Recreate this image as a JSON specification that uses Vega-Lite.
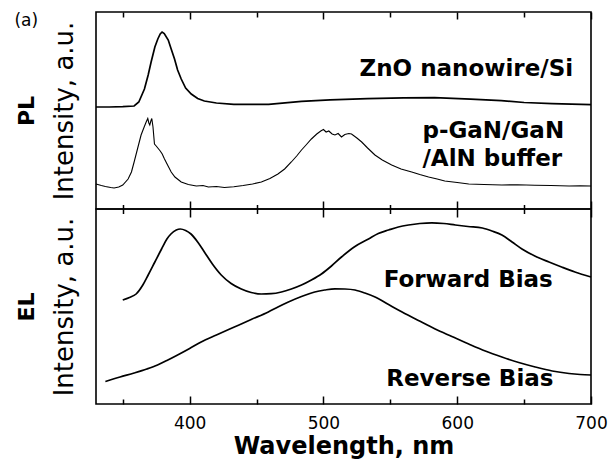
{
  "$schema": "https://vega.github.io/schema/vega-lite/v6.json",
  "padding": {"left": 13, "top": 10, "right": 14, "bottom": 0},
  "background": "white",
  "spacing": 0,
  "bounds": "flush",
  "config": {
    "view": {"stroke": "black", "strokeWidth": 1.6},
    "font": "DejaVu Sans",
    "axis": {"grid": false, "domain": false, "tickColor": "black", "tickWidth": 1.5, "labelColor": "black", "titleColor": "black", "minExtent": 0, "labelFlush": false}
  },
  "datasets": {
    "pl": [
      {"s": "ZnO", "wl": 330, "v": 102}, {"s": "ZnO", "wl": 340, "v": 102}, {"s": "ZnO", "wl": 350, "v": 102.3},
      {"s": "ZnO", "wl": 358.5, "v": 103}, {"s": "ZnO", "wl": 362, "v": 107}, {"s": "ZnO", "wl": 366.2, "v": 120},
      {"s": "ZnO", "wl": 369, "v": 134}, {"s": "ZnO", "wl": 371.2, "v": 147}, {"s": "ZnO", "wl": 374, "v": 162},
      {"s": "ZnO", "wl": 376.2, "v": 170}, {"s": "ZnO", "wl": 378, "v": 175}, {"s": "ZnO", "wl": 379.4, "v": 177},
      {"s": "ZnO", "wl": 381, "v": 175.5}, {"s": "ZnO", "wl": 384, "v": 169}, {"s": "ZnO", "wl": 386.2, "v": 160},
      {"s": "ZnO", "wl": 388.7, "v": 150}, {"s": "ZnO", "wl": 391, "v": 139}, {"s": "ZnO", "wl": 393.7, "v": 130},
      {"s": "ZnO", "wl": 397, "v": 121}, {"s": "ZnO", "wl": 401.2, "v": 115}, {"s": "ZnO", "wl": 406, "v": 110.5},
      {"s": "ZnO", "wl": 411, "v": 108}, {"s": "ZnO", "wl": 420, "v": 106}, {"s": "ZnO", "wl": 433, "v": 104.7},
      {"s": "ZnO", "wl": 459, "v": 104.6}, {"s": "ZnO", "wl": 483.6, "v": 107.7}, {"s": "ZnO", "wl": 505, "v": 109.2},
      {"s": "ZnO", "wl": 533, "v": 110.3}, {"s": "ZnO", "wl": 560, "v": 111.2}, {"s": "ZnO", "wl": 583, "v": 111.3},
      {"s": "ZnO", "wl": 610, "v": 109.8}, {"s": "ZnO", "wl": 633, "v": 108.3}, {"s": "ZnO", "wl": 650, "v": 106.5},
      {"s": "ZnO", "wl": 671, "v": 105.3}, {"s": "ZnO", "wl": 700, "v": 104.3},
      {"s": "GaN", "wl": 330, "v": 25}, {"s": "GaN", "wl": 334, "v": 23.5}, {"s": "GaN", "wl": 337, "v": 22.5},
      {"s": "GaN", "wl": 341, "v": 21.5}, {"s": "GaN", "wl": 343.5, "v": 21}, {"s": "GaN", "wl": 347, "v": 22},
      {"s": "GaN", "wl": 350, "v": 24}, {"s": "GaN", "wl": 354, "v": 30}, {"s": "GaN", "wl": 356.5, "v": 37},
      {"s": "GaN", "wl": 358.5, "v": 47}, {"s": "GaN", "wl": 361, "v": 60}, {"s": "GaN", "wl": 363.7, "v": 74},
      {"s": "GaN", "wl": 366, "v": 82}, {"s": "GaN", "wl": 367.5, "v": 87}, {"s": "GaN", "wl": 368.7, "v": 90.5},
      {"s": "GaN", "wl": 369.5, "v": 86}, {"s": "GaN", "wl": 370.2, "v": 84}, {"s": "GaN", "wl": 371, "v": 88},
      {"s": "GaN", "wl": 371.7, "v": 90.5}, {"s": "GaN", "wl": 372.6, "v": 82}, {"s": "GaN", "wl": 373.7, "v": 65},
      {"s": "GaN", "wl": 375, "v": 63}, {"s": "GaN", "wl": 376.2, "v": 61}, {"s": "GaN", "wl": 378, "v": 58},
      {"s": "GaN", "wl": 379.5, "v": 55}, {"s": "GaN", "wl": 381.2, "v": 50}, {"s": "GaN", "wl": 383.5, "v": 44},
      {"s": "GaN", "wl": 386.2, "v": 37}, {"s": "GaN", "wl": 389, "v": 32}, {"s": "GaN", "wl": 393.7, "v": 27},
      {"s": "GaN", "wl": 399, "v": 24.5}, {"s": "GaN", "wl": 405, "v": 23}, {"s": "GaN", "wl": 410, "v": 23.5},
      {"s": "GaN", "wl": 414, "v": 22}, {"s": "GaN", "wl": 420, "v": 22.5}, {"s": "GaN", "wl": 426, "v": 21.5},
      {"s": "GaN", "wl": 433, "v": 22.3}, {"s": "GaN", "wl": 440, "v": 23.5}, {"s": "GaN", "wl": 447, "v": 25},
      {"s": "GaN", "wl": 453.6, "v": 27}, {"s": "GaN", "wl": 460, "v": 30.5}, {"s": "GaN", "wl": 466, "v": 35},
      {"s": "GaN", "wl": 471, "v": 40}, {"s": "GaN", "wl": 476, "v": 47}, {"s": "GaN", "wl": 480, "v": 53},
      {"s": "GaN", "wl": 483.6, "v": 59}, {"s": "GaN", "wl": 487, "v": 64}, {"s": "GaN", "wl": 491, "v": 70},
      {"s": "GaN", "wl": 495, "v": 75}, {"s": "GaN", "wl": 498, "v": 78}, {"s": "GaN", "wl": 500, "v": 79.5},
      {"s": "GaN", "wl": 502, "v": 77}, {"s": "GaN", "wl": 504, "v": 78}, {"s": "GaN", "wl": 506.5, "v": 75},
      {"s": "GaN", "wl": 508.6, "v": 74}, {"s": "GaN", "wl": 511, "v": 75.5}, {"s": "GaN", "wl": 513.5, "v": 72},
      {"s": "GaN", "wl": 516, "v": 74.5}, {"s": "GaN", "wl": 519, "v": 75.5}, {"s": "GaN", "wl": 521, "v": 75},
      {"s": "GaN", "wl": 525, "v": 71}, {"s": "GaN", "wl": 528.6, "v": 67}, {"s": "GaN", "wl": 533, "v": 61},
      {"s": "GaN", "wl": 538.5, "v": 54}, {"s": "GaN", "wl": 544, "v": 49}, {"s": "GaN", "wl": 551, "v": 44},
      {"s": "GaN", "wl": 558, "v": 40}, {"s": "GaN", "wl": 566, "v": 37}, {"s": "GaN", "wl": 572, "v": 34.5},
      {"s": "GaN", "wl": 578.6, "v": 32}, {"s": "GaN", "wl": 585, "v": 30}, {"s": "GaN", "wl": 590.7, "v": 28},
      {"s": "GaN", "wl": 600, "v": 26.5}, {"s": "GaN", "wl": 608.6, "v": 25}, {"s": "GaN", "wl": 620, "v": 24.5},
      {"s": "GaN", "wl": 633.4, "v": 24}, {"s": "GaN", "wl": 645, "v": 24.3}, {"s": "GaN", "wl": 658, "v": 23.7},
      {"s": "GaN", "wl": 670, "v": 23.5}, {"s": "GaN", "wl": 683.6, "v": 23}, {"s": "GaN", "wl": 692, "v": 23.3},
      {"s": "GaN", "wl": 700, "v": 23}
    ],
    "plLabels": [
      {"t": "ZnO nanowire/Si", "wl": 527, "v": 140},
      {"t": "p-GaN/GaN", "wl": 574, "v": 78},
      {"t": "/AlN buffer", "wl": 574, "v": 50}
    ],
    "panelTag": [
      {"t": "(a)", "wl": 269, "v": 188}
    ],
    "el": [
      {"s": "Forward", "wl": 350, "v": 104}, {"s": "Forward", "wl": 355, "v": 106.5}, {"s": "Forward", "wl": 360, "v": 110},
      {"s": "Forward", "wl": 365, "v": 119}, {"s": "Forward", "wl": 369, "v": 129}, {"s": "Forward", "wl": 374, "v": 142},
      {"s": "Forward", "wl": 379, "v": 155}, {"s": "Forward", "wl": 383, "v": 165}, {"s": "Forward", "wl": 386, "v": 170},
      {"s": "Forward", "wl": 390, "v": 174}, {"s": "Forward", "wl": 393, "v": 175}, {"s": "Forward", "wl": 397, "v": 173.5},
      {"s": "Forward", "wl": 401, "v": 170}, {"s": "Forward", "wl": 406, "v": 162}, {"s": "Forward", "wl": 411, "v": 152},
      {"s": "Forward", "wl": 417, "v": 140}, {"s": "Forward", "wl": 423.6, "v": 129}, {"s": "Forward", "wl": 431, "v": 120.5},
      {"s": "Forward", "wl": 438.6, "v": 115}, {"s": "Forward", "wl": 446, "v": 111.5}, {"s": "Forward", "wl": 453.6, "v": 110},
      {"s": "Forward", "wl": 461, "v": 110.3}, {"s": "Forward", "wl": 468.6, "v": 112}, {"s": "Forward", "wl": 476, "v": 115},
      {"s": "Forward", "wl": 483.6, "v": 119}, {"s": "Forward", "wl": 491, "v": 124}, {"s": "Forward", "wl": 498.5, "v": 130},
      {"s": "Forward", "wl": 506, "v": 138}, {"s": "Forward", "wl": 513.5, "v": 147}, {"s": "Forward", "wl": 523, "v": 157},
      {"s": "Forward", "wl": 533.7, "v": 165}, {"s": "Forward", "wl": 541, "v": 170.5}, {"s": "Forward", "wl": 548.7, "v": 174},
      {"s": "Forward", "wl": 556, "v": 177}, {"s": "Forward", "wl": 563.6, "v": 179}, {"s": "Forward", "wl": 572, "v": 180.5},
      {"s": "Forward", "wl": 581, "v": 181.2}, {"s": "Forward", "wl": 590, "v": 180.5}, {"s": "Forward", "wl": 598.6, "v": 179},
      {"s": "Forward", "wl": 608, "v": 177.5}, {"s": "Forward", "wl": 618.8, "v": 176}, {"s": "Forward", "wl": 626, "v": 173},
      {"s": "Forward", "wl": 633.4, "v": 169}, {"s": "Forward", "wl": 641, "v": 162}, {"s": "Forward", "wl": 648.4, "v": 155},
      {"s": "Forward", "wl": 658, "v": 148}, {"s": "Forward", "wl": 668.6, "v": 142}, {"s": "Forward", "wl": 678, "v": 137},
      {"s": "Forward", "wl": 688, "v": 132}, {"s": "Forward", "wl": 700, "v": 127},
      {"s": "Reverse", "wl": 337, "v": 22.5}, {"s": "Reverse", "wl": 348, "v": 27}, {"s": "Reverse", "wl": 358.5, "v": 31},
      {"s": "Reverse", "wl": 368, "v": 35}, {"s": "Reverse", "wl": 376, "v": 39}, {"s": "Reverse", "wl": 383, "v": 43.5},
      {"s": "Reverse", "wl": 391, "v": 49}, {"s": "Reverse", "wl": 400, "v": 55.5}, {"s": "Reverse", "wl": 408.6, "v": 62},
      {"s": "Reverse", "wl": 420, "v": 69}, {"s": "Reverse", "wl": 433.4, "v": 77}, {"s": "Reverse", "wl": 446, "v": 84.5},
      {"s": "Reverse", "wl": 458.8, "v": 92}, {"s": "Reverse", "wl": 466, "v": 97}, {"s": "Reverse", "wl": 473.8, "v": 102},
      {"s": "Reverse", "wl": 483.6, "v": 107.5}, {"s": "Reverse", "wl": 493.5, "v": 112}, {"s": "Reverse", "wl": 501, "v": 114},
      {"s": "Reverse", "wl": 508.6, "v": 115.2}, {"s": "Reverse", "wl": 516, "v": 115}, {"s": "Reverse", "wl": 523.6, "v": 114},
      {"s": "Reverse", "wl": 531, "v": 111}, {"s": "Reverse", "wl": 538.6, "v": 107}, {"s": "Reverse", "wl": 548, "v": 100},
      {"s": "Reverse", "wl": 558.8, "v": 92}, {"s": "Reverse", "wl": 571, "v": 83.5}, {"s": "Reverse", "wl": 583.5, "v": 75},
      {"s": "Reverse", "wl": 596, "v": 67.5}, {"s": "Reverse", "wl": 608.6, "v": 60}, {"s": "Reverse", "wl": 621, "v": 53},
      {"s": "Reverse", "wl": 633.4, "v": 47}, {"s": "Reverse", "wl": 646, "v": 41.5}, {"s": "Reverse", "wl": 658.3, "v": 37},
      {"s": "Reverse", "wl": 671, "v": 33}, {"s": "Reverse", "wl": 683.6, "v": 30.5}, {"s": "Reverse", "wl": 692, "v": 29.5},
      {"s": "Reverse", "wl": 700, "v": 29}
    ],
    "elLabels": [
      {"t": "Forward Bias", "wl": 545, "v": 124},
      {"t": "Reverse Bias", "wl": 547, "v": 25}
    ]
  },
  "vconcat": [
    {
      "width": 495,
      "height": 197,
      "layer": [
        {
          "data": {"name": "pl"},
          "mark": {"type": "line", "color": "black", "interpolate": "linear"},
          "encoding": {
            "x": {"field": "wl", "type": "quantitative", "scale": {"domain": [330, 700], "nice": false, "zero": false},
              "axis": {"orient": "bottom", "values": [350, 400, 450, 500, 550, 600, 650, 700], "labels": false, "title": null,
                "tickSize": {"condition": {"test": "datum.value % 100 === 0", "value": -8}, "value": -4.5}}},
            "y": {"field": "v", "type": "quantitative", "scale": {"domain": [0, 197], "nice": false, "zero": false},
              "axis": {"title": "Intensity, a.u.", "labels": false, "ticks": false, "titleFontSize": 26, "titleFontWeight": "normal", "titlePadding": 19}},
            "detail": {"field": "s"},
            "strokeWidth": {"field": "s", "type": "nominal", "scale": {"domain": ["ZnO", "GaN"], "range": [1.7, 1.1]}, "legend": null}
          }
        },
        {
          "data": {"name": "plLabels"},
          "mark": {"type": "text", "align": "left", "baseline": "middle", "fontSize": 23, "fontWeight": "bold", "color": "black"},
          "encoding": {
            "x": {"field": "wl", "type": "quantitative", "scale": {"domain": [330, 700], "nice": false, "zero": false},
              "axis": {"orient": "top", "values": [350, 400, 450, 500, 550, 600, 650, 700], "labels": false, "title": null,
                "tickSize": {"condition": {"test": "datum.value % 100 === 0", "value": -7}, "value": -5}}},
            "y": {"field": "v", "type": "quantitative", "scale": {"domain": [0, 197], "nice": false, "zero": false},
              "axis": {"orient": "left", "title": "PL", "labels": false, "ticks": false, "titleFontSize": 22, "titleFontWeight": "bold", "titlePadding": 58}},
            "text": {"field": "t"}
          }
        },
        {
          "data": {"name": "panelTag"},
          "mark": {"type": "text", "align": "left", "baseline": "middle", "fontSize": 17, "fontWeight": "normal", "color": "black"},
          "encoding": {
            "x": {"field": "wl", "type": "quantitative", "axis": null},
            "y": {"field": "v", "type": "quantitative", "axis": null},
            "text": {"field": "t"}
          }
        }
      ],
      "resolve": {"axis": {"x": "independent", "y": "independent"}}
    },
    {
      "width": 495,
      "height": 195,
      "layer": [
        {
          "data": {"name": "el"},
          "mark": {"type": "line", "color": "black", "strokeWidth": 1.7, "interpolate": "monotone"},
          "encoding": {
            "x": {"field": "wl", "type": "quantitative", "scale": {"domain": [330, 700], "nice": false, "zero": false},
              "axis": {"orient": "bottom", "values": [350, 400, 450, 500, 550, 600, 650, 700], "title": "Wavelength, nm",
                "labelExpr": "datum.value % 100 === 0 ? datum.label : ''", "labelFontSize": 17, "labelPadding": 19,
                "titleFontSize": 24, "titleFontWeight": "bold", "titlePadding": 3,
                "tickSize": {"condition": {"test": "datum.value % 100 === 0", "value": -8}, "value": -5}}},
            "y": {"field": "v", "type": "quantitative", "scale": {"domain": [0, 195], "nice": false, "zero": false},
              "axis": {"title": "Intensity, a.u.", "labels": false, "ticks": false, "titleFontSize": 26, "titleFontWeight": "normal", "titlePadding": 19}},
            "detail": {"field": "s"}
          }
        },
        {
          "data": {"name": "elLabels"},
          "mark": {"type": "text", "align": "left", "baseline": "middle", "fontSize": 23, "fontWeight": "bold", "color": "black"},
          "encoding": {
            "x": {"field": "wl", "type": "quantitative", "scale": {"domain": [330, 700], "nice": false, "zero": false},
              "axis": {"orient": "top", "values": [350, 400, 450, 500, 550, 600, 650, 700], "labels": false, "title": null,
                "tickSize": {"condition": {"test": "datum.value % 100 === 0", "value": -8}, "value": -4.5}}},
            "y": {"field": "v", "type": "quantitative", "scale": {"domain": [0, 195], "nice": false, "zero": false},
              "axis": {"orient": "left", "title": "EL", "labels": false, "ticks": false, "titleFontSize": 22, "titleFontWeight": "bold", "titlePadding": 58}},
            "text": {"field": "t"}
          }
        }
      ],
      "resolve": {"axis": {"x": "independent", "y": "independent"}}
    }
  ]
}
